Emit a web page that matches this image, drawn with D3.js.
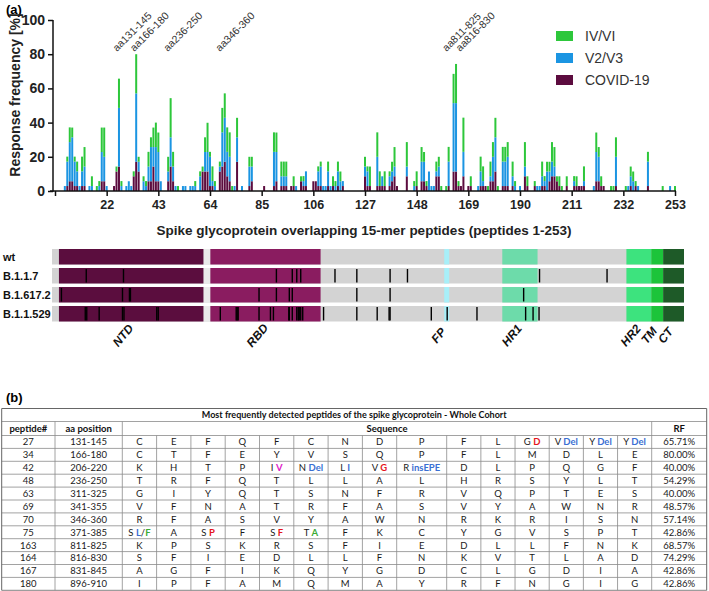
<!DOCTYPE html>
<html><head><meta charset="utf-8">
<script src="https://cdn.jsdelivr.net/npm/d3@7"></script>
<style>body{margin:0;background:#fff}svg{display:block}</style>
</head><body><svg id="c" width="709" height="591"></svg>
<script>
// ---------------- DATA ----------------
const peptides = [5,6,7,8,9,10,11,12,13,15, 16,18,19,20,21,22,25,26,27,28, 30,31,32,33,34,35,37,38,39,40,
 41,42,43,44,47,48,49,50,51,53, 54,56,57,58,60,61,62,63,64,65, 66,68,69,70,71,72,73,74,75,77,
 80,81,86,90,91,93,94,95,97,98, 99,101,102,103,106,107,108,109,110,111, 112,113,114,115,116,117,118,127,128,129,
 132,133,134,135,137,138,139,140,144,147, 148,150,151,152,153,154,155,156,157,158, 160,161,163,164,165,166,167,169,170,173,
 174,175,176,177,178,179,180,181,183,184, 185,187,188,190,192,193,196,197,198,199, 200,201,202,203,204,205,206,207,209,212,
 213,214,215,216,220,221,222,223,224,227, 228,229,233,234,235,236,237,238,242,248, 251,253];
const covid = [0,2.9,5.7,5.7,2.9,2.9,0,2.9,2.9,0, 0,0,0,5.7,5.7,0,2.9,11.4,14.3,0, 0,0,0,8.6,17.1,11.4,0,0,5.7,5.7,
 14.3,5.7,5.7,0,5.7,14.3,5.7,0,0,0, 0,0,0,0,0,11.4,11.4,11.4,2.9,2.9, 0,11.4,14.3,17.1,8.6,5.7,0,0,17.1,0,
 2.9,5.7,2.9,2.9,5.7,2.9,2.9,2.9,2.9,2.9, 0,5.7,2.9,2.9,5.7,5.7,2.9,2.9,0,0, 2.9,0,2.9,0,2.9,0,2.9,8.6,2.9,2.9,
 2.9,2.9,2.9,2.9,2.9,5.7,8.6,2.9,8.6,0, 2.9,5.7,5.7,2.9,0,0,0,8.6,8.6,0, 0,2.9,11.4,11.4,2.9,2.9,8.6,2.9,2.9,0,
 2.9,2.9,2.9,0,5.7,5.7,11.4,0,2.9,2.9, 2.9,2.9,0,0,8.6,2.9,2.9,0,0,2.9, 2.9,0,5.7,8.6,8.6,5.7,2.9,0,2.9,2.9,
 2.9,2.9,2.9,2.9,0,5.7,5.7,2.9,2.9,0, 0,2.9,0,0,2.9,0,2.9,0,2.9,0, 0,0];
const v2v3 = [2.9,14.3,22.9,25.7,14.3,8.6,2.9,8.6,11.4,2.9, 2.9,0,2.9,17.1,14.3,2.9,0,0,34.3,2.9, 2.9,5.7,2.9,0,40,5.7,5.7,2.9,8.6,20,
 11.4,20,17.1,5.7,5.7,17.1,8.6,2.9,0,2.9, 2.9,2.9,2.9,2.9,8.6,0,11.4,11.4,17.1,2.9, 2.9,2.9,20,25.7,14.3,14.3,0,2.9,14.3,2.9,
 11.4,8.6,0,20,17.1,5.7,5.7,5.7,0,0, 2.9,0,2.9,8.6,0,0,8.6,11.4,2.9,2.9, 8.6,2.9,0,2.9,8.6,5.7,2.9,5.7,8.6,0,
 17.1,0,5.7,0,5.7,5.7,5.7,0,5.7,2.9, 0,11.4,11.4,0,11.4,2.9,2.9,2.9,5.7,0, 0,14.3,40,40,0,0,14.3,0,0,2.9,
 8.6,2.9,0,0,2.9,14.3,20,0,14.3,14.3, 17.1,5.7,2.9,2.9,5.7,0,0,2.9,2.9,5.7, 2.9,11.4,5.7,8.6,5.7,0,0,0,0,2.9,
 0,0,0,2.9,2.9,17.1,14.3,0,0,0, 0,17.1,0,2.9,5.7,5.7,0,2.9,14.3,0, 2.9,0];
const ivvi = [0,2.9,8.6,5.7,2.9,5.7,0,8.6,11.4,0, 5.7,2.9,2.9,14.3,17.1,0,0,2.9,17.1,2.9, 0,0,0,2.9,22.9,2.9,2.9,2.9,8.6,5.7,
 11.4,14.3,11.4,0,8.6,22.9,8.6,0,2.9,0, 0,0,0,2.9,2.9,2.9,8.6,17.1,2.9,8.6, 2.9,2.9,14.3,14.3,14.3,14.3,2.9,0,11.4,0,
 5.7,5.7,0,11.4,11.4,8.6,8.6,8.6,0,5.7, 0,2.9,2.9,0,0,0,2.9,2.9,0,0, 5.7,0,5.7,2.9,5.7,5.7,0,5.7,2.9,11.4,
 14.3,8.6,0,8.6,2.9,5.7,11.4,0,14.3,2.9, 8.6,8.6,5.7,2.9,0,0,0,5.7,5.7,2.9, 2.9,8.6,17.1,22.9,2.9,0,20,0,5.7,0,
 8.6,8.6,0,2.9,8.6,8.6,11.4,2.9,8.6,8.6, 8.6,8.6,2.9,0,14.3,5.7,2.9,0,0,8.6, 2.9,5.7,5.7,11.4,11.4,2.9,5.7,2.9,5.7,2.9,
 5.7,0,0,8.6,0,11.4,5.7,5.7,0,2.9, 2.9,11.4,2.9,0,5.7,5.7,2.9,0,5.7,2.9, 0,2.9];
const seriesNames = ["IV/VI","V2/V3","COVID-19"];
const xTicks = [1,22,43,64,85,106,127,148,169,190,211,232,253];
const yTicks = [0,20,40,60,80,100];
const peakLabels = ["aa131-145","aa166-180","aa236-250","aa346-360","aa811-825","aa816-830"];
const peakPeptides = [27,34,48,70,163,164];

const variants = ["wt","B.1.1.7","B.1.617.2","B.1.1.529"];
const domainNames = ["NTD","RBD","FP","HR1","HR2","TM","CT"];
const domainStart = [14,319,790,907,1157,1207,1231];
const domainEnd   = [305,541,800,978,1207,1231,1273];
const mutations = [
  [],
  [69,144,452,484,493,501,570,614,681,716,982,1118],
  [19,142,156,158,417,452,478,484,614,681,950],
  [67,70,95,142,145,211,214,339,371,373,375,417,440,446,477,478,484,493,496,498,501,505,547,614,655,679,681,764,796,856,954,969,981]
];

const tableTitle = "Most frequently detected peptides of the spike glycoprotein - Whole Cohort";
const tableHeaders = ["peptide#","aa position","Sequence","RF"];
const tPeptide = [27,34,42,48,63,69,70,75,163,164,167,180];
const tPosition = ["131-145","166-180","206-220","236-250","311-325","341-355","346-360","371-385","811-825","816-830","831-845","896-910"];
const tSequence = [
  ["C","E","F","Q","F","C","N","D","P","F","L","G [r:D]","V [b:Del]","Y [b:Del]","Y [b:Del]"],
  "CTFEYVSQPFLMDLE".split(""),
  ["K","H","T","P","I [m:V]","N [b:Del]","L [b:I]","V [r:G]","R [b:insEPE]","D","L","P","Q","G","F"],
  "TRFQTLLALHRSYLT".split(""),
  "GIYQTSNFRVQPTES".split(""),
  "VFNATRFASVYAWNR".split(""),
  "RFASVYAWNRKRISN".split(""),
  ["S [b:L]/[g:F]","A","S [r:P]","F","S [r:F]","T [g:A]","F","K","C","Y","G","V","S","P","T"],
  "KPSKRSFIEDLLFNK".split(""),
  "SFIEDLLFNKVTLAD".split(""),
  "AGFIKQYGDCLGDIA".split(""),
  "IPFAMQMAYRFNGIG".split("")
];
const tRF = ["65.71%","80.00%","40.00%","54.29%","40.00%","48.57%","57.14%","42.86%","68.57%","74.29%","42.86%","42.86%"];

// ---------------- DRAW ----------------
const svg = d3.select("#c");
const FONT = "'Liberation Sans', Arial, sans-serif";
const C = {ivvi:"#2dc73b", v2v3:"#1b95e2", covid:"#5c0c3f"};

svg.append("text").attr("x",6).attr("y",14).attr("font-family",FONT).attr("font-weight","bold")
  .attr("font-size",13).text("(a)");

const x = d3.scaleLinear().domain([1,253]).range([55,675]);
const y = d3.scaleLinear().domain([0,100]).range([191,20]);

const rows = peptides.map((p,i)=>({p, covid:covid[i], v2v3:v2v3[i], ivvi:ivvi[i]}));
const stacked = d3.stack().keys(["covid","v2v3","ivvi"])(rows);
svg.append("g").selectAll("g").data(stacked).join("g").attr("fill",d=>C[d.key])
  .selectAll("rect").data(d=>d.filter(s=>s[1]>s[0])).join("rect")
  .attr("x",d=>x(d.data.p)-1).attr("width",2)
  .attr("y",d=>y(d[1])).attr("height",d=>y(d[0])-y(d[1]));

// axes
const yAx = svg.append("g").attr("transform","translate(53,0)")
  .call(d3.axisLeft(y).tickValues(yTicks).tickSize(5).tickSizeOuter(0).tickPadding(3));
const xAx = svg.append("g").attr("transform","translate(0,191)")
  .call(d3.axisBottom(x).tickValues(xTicks).tickSize(5).tickSizeOuter(0).tickPadding(4)
  .tickFormat(d=>d===1?"":d));
[yAx,xAx].forEach(g=>{
  g.selectAll("path.domain").remove();
  g.selectAll("line").attr("stroke","#111").attr("stroke-width",1.5);
  g.selectAll("text").attr("font-family",FONT).attr("font-weight","bold").attr("fill","#222");
});
yAx.selectAll("text").attr("font-size",14);
xAx.selectAll("text").attr("font-size",12.5);
svg.append("line").attr("x1",53).attr("x2",53).attr("y1",y(100)).attr("y2",y(0)+0.75)
  .attr("stroke","#111").attr("stroke-width",1.5);
svg.append("line").attr("x1",50).attr("x2",x(253)+1).attr("y1",191).attr("y2",191)
  .attr("stroke","#111").attr("stroke-width",1.5);

svg.append("text").attr("transform","translate(20,95) rotate(-90)").attr("text-anchor","middle")
  .attr("font-family",FONT).attr("font-weight","bold").attr("font-size",14).attr("fill","#222")
  .text("Response frequency [%]");
svg.append("text").attr("x",364).attr("y",235).attr("text-anchor","middle")
  .attr("font-family",FONT).attr("font-weight","bold").attr("font-size",13.5).attr("fill","#222")
  .text("Spike glycoprotein overlapping 15-mer peptides (peptides 1-253)");

// peak labels
const peakDx = [-2,-2,-3,-5,-7,4];
svg.append("g").selectAll("text").data(peakLabels).join("text")
  .attr("transform",(d,i)=>`translate(${x(peakPeptides[i])+peakDx[i]},52) rotate(-45)`)
  .attr("font-family",FONT).attr("font-size",10.5).attr("fill","#333").text(d=>d);

// legend
const lg = svg.append("g");
["ivvi","v2v3","covid"].forEach((k,i)=>{
  lg.append("rect").attr("x",556).attr("y",31+i*22).attr("width",17).attr("height",10).attr("fill",C[k]);
  lg.append("text").attr("x",585).attr("y",41+i*22).attr("font-family",FONT).attr("font-size",14)
    .attr("fill","#333").text(seriesNames[i]);
});

// ---- domain map
const xa = d3.scaleLinear().domain([0,1273]).range([52,684]);
const domColors = ["#5b0d3e","#8a1c60","#a8eff8","#6ddbaa","#3de37e","#1cc43a","#1e5a28"];
const rowY = [249,268,287,306], rowH = 15.5;
variants.forEach((v,r)=>{
  const g = svg.append("g");
  g.append("rect").attr("x",xa(0)).attr("width",xa(1273)-xa(0)).attr("y",rowY[r]).attr("height",rowH).attr("fill","#d3d3d3");
  g.append("rect").attr("x",xa(domainEnd[0])).attr("width",xa(domainStart[1])-xa(domainEnd[0]))
    .attr("y",rowY[r]).attr("height",rowH).attr("fill","#e9e9e9");
  g.selectAll("rect.d").data(domainNames).join("rect").attr("class","d")
    .attr("x",(d,i)=>xa(domainStart[i])).attr("width",(d,i)=>xa(domainEnd[i])-xa(domainStart[i]))
    .attr("y",rowY[r]).attr("height",rowH).attr("fill",(d,i)=>domColors[i]);
  g.selectAll("line.m").data(mutations[r]).join("line").attr("class","m")
    .attr("x1",d=>xa(d)).attr("x2",d=>xa(d)).attr("y1",rowY[r]+1).attr("y2",rowY[r]+rowH-1)
    .attr("stroke","#000").attr("stroke-width",1.4);
  g.append("text").attr("x",3).attr("y",rowY[r]+rowH/2+4).attr("font-family",FONT)
    .attr("font-weight","bold").attr("font-size",11).attr("fill","#111").text(v);
});
svg.append("g").selectAll("text").data(domainNames).join("text")
  .attr("transform",(d,i)=>`translate(${xa((domainStart[i]+domainEnd[i])/2)-5},338) rotate(-50)`)
  .attr("text-anchor","middle").attr("font-family",FONT).attr("font-weight","bold")
  .attr("font-style","italic").attr("font-size",12).attr("fill","#111").text(d=>d);

// ---------------- TABLE ----------------
svg.append("text").attr("x",6).attr("y",402).attr("font-family",FONT).attr("font-weight","bold")
  .attr("font-size",13).text("(b)");
const TF = "Lato, 'Open Sans', sans-serif";
const tl = 1.7, tr = 706.7, tTop = 408.5, titleH = 13, headH = 14, rowHt = 12.9;
const seqEdges = [122.3];
for (let i=0;i<15;i++) seqEdges.push(seqEdges[i] + (i<8?34.3:(i===8?50:34.17)));
const dataTop = tTop + titleH + headH;
const tBottom = dataTop + tPeptide.length*rowHt;
const tg = svg.append("g");
const ln = (x1,y1,x2,y2,c,w)=>tg.append("line").attr("x1",x1).attr("y1",y1).attr("x2",x2).attr("y2",y2)
  .attr("stroke",c||"#8a8a8a").attr("stroke-width",w||0.8);
// horizontal lines
ln(tl,tTop,tr,tTop,"#666",1);
ln(tl,tTop+titleH,tr,tTop+titleH);
for (let i=0;i<=tPeptide.length;i++) ln(tl,dataTop+i*rowHt,tr,dataTop+i*rowHt, i===tPeptide.length?"#666":null);
// vertical lines
ln(tl,tTop,tl,tBottom,"#666",1); ln(tr,tTop,tr,tBottom,"#666",1);
[55,122.3,651.7].forEach(v=>ln(v,tTop+titleH,v,tBottom));
seqEdges.slice(1,-1).forEach(v=>ln(v,dataTop,v,tBottom));

const title = tg.append("text").attr("x",(tl+tr)/2).attr("y",tTop+titleH/2+3.4).attr("text-anchor","middle")
  .attr("font-family",TF).attr("font-weight","bold").attr("font-size",10).attr("fill","#111").text(tableTitle);
const tw = title.node().getComputedTextLength();
if (tw>0) title.attr("font-size", 10*305/tw);
const hy = tTop+titleH+headH/2+3.4;
const hx = [(tl+55)/2,(55+122.3)/2,(122.3+651.7)/2,(651.7+tr)/2];
tableHeaders.forEach((h,i)=>tg.append("text").attr("x",hx[i]).attr("y",hy).attr("text-anchor","middle")
  .attr("font-family",TF).attr("font-weight","bold").attr("font-size",9.5).attr("fill","#111").text(h));

const colMap = {r:"#e5141c", b:"#3a6fd3", m:"#e021c8", g:"#3aab36"};
function cellText(xc, yc, str){
  const t = tg.append("text").attr("x",xc).attr("y",yc).attr("text-anchor","middle")
    .attr("font-family",TF).attr("font-size",9.5).attr("fill","#1a1a1a");
  const re = /\[(\w):([^\]]+)\]/g; let last=0, m;
  while((m=re.exec(str))){
    if (m.index>last) t.append("tspan").text(str.slice(last,m.index));
    t.append("tspan").attr("fill",colMap[m[1]]).attr("font-weight","bold").text(m[2]);
    last = re.lastIndex;
  }
  if (last<str.length) t.append("tspan").text(str.slice(last));
  t.selectAll("tspan").attr("xml:space","preserve");
  t.style("white-space","pre");
}
tPeptide.forEach((p,r)=>{
  const yc = dataTop + r*rowHt + rowHt/2 + 3.4;
  cellText(hx[0], yc, String(p));
  cellText(hx[1], yc, tPosition[r]);
  tSequence[r].forEach((s,c)=>cellText((seqEdges[c]+seqEdges[c+1])/2, yc, s));
  cellText(hx[3], yc, tRF[r]);
});
</script>
</body></html>
